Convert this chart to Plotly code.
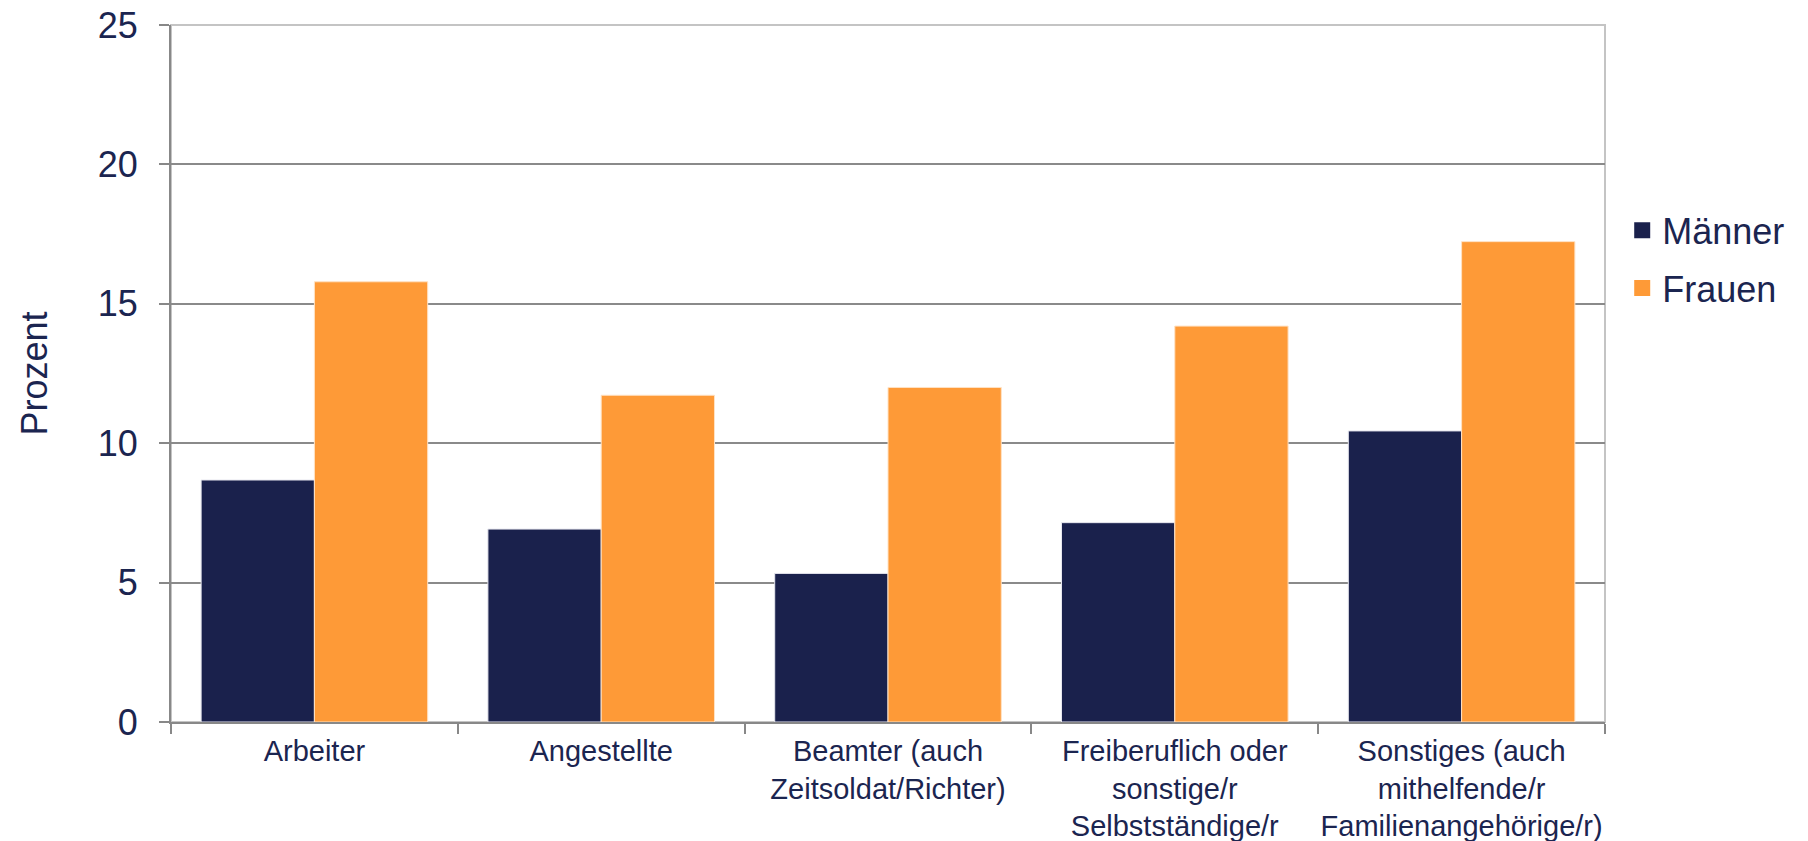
import plotly.graph_objects as go

# Kategorien (Stellung im Beruf)
kategorien = ['Arbeiter',
              'Angestellte',
              'Beamter (auch<br>Zeitsoldat/Richter)',
              'Freiberuflich oder<br>sonstige/r<br>Selbstständige/r',
              'Sonstiges (auch<br>mithelfende/r<br>Familienangehörige/r)']
maenner = [8.68, 6.92, 5.33, 7.15, 10.44]
frauen = [15.79, 11.72, 12.0, 14.2, 17.23]
y_ticks = [0, 5, 10, 15, 20, 25]

navy = '#1A214C'
orange = '#FE9A37'
text_col = '#1B2550'
font_fam = 'Liberation Sans, Arial, sans-serif'

fig = go.Figure()
fig.add_trace(go.Bar(x=kategorien, y=maenner, name='Männer', showlegend=False,
                     marker=dict(color=navy, line=dict(color='#e6e6ee', width=1))))
fig.add_trace(go.Bar(x=kategorien, y=frauen, name='Frauen', showlegend=False,
                     marker=dict(color=orange, line=dict(color='#ffe2c4', width=1))))

# Legende mit grösseren quadratischen Symbolen
for name, col in [('Männer', navy), ('Frauen', orange)]:
    fig.add_trace(go.Scatter(x=[None], y=[None], mode='markers', name=name,
                             legendgroup=name,
                             marker=dict(symbol='square', size=16, color=col)))

# Rahmen des Plotbereichs (hellgrau)
fig.add_shape(type='rect', xref='paper', yref='paper', x0=0, x1=1, y0=0, y1=1,
              line=dict(color='#c4c4c4', width=2), layer='below')

fig.update_layout(
    width=1808, height=841,
    margin=dict(l=171, r=203, t=25, b=119),
    paper_bgcolor='white', plot_bgcolor='white',
    font=dict(family=font_fam, color=text_col),
    barmode='group', bargap=0.21, bargroupgap=0,
    showlegend=True,
    legend=dict(x=1.012, y=0.7485, xanchor='left', yanchor='top',
                font=dict(size=36, color=text_col), itemsizing='trace',
                traceorder='grouped', tracegroupgap=8,
                itemwidth=30, bgcolor='rgba(0,0,0,0)'),
    xaxis=dict(type='category', tickson='boundaries', ticks='outside', ticklen=10,
               tickcolor='#888888', tickwidth=2, showline=True, linecolor='#888888',
               linewidth=2, tickangle=0, automargin=False,
               tickfont=dict(size=29, color=text_col), ticklabelstandoff=2),
    yaxis=dict(range=[0, 25], tickvals=y_ticks, ticks='outside', ticklen=10,
               tickcolor='#888888', tickwidth=2, showline=True, linecolor='#888888',
               linewidth=2, showgrid=True, gridcolor='#8a8a8a', gridwidth=2,
               zeroline=False, automargin=False,
               tickfont=dict(size=36, color=text_col), ticklabelstandoff=14,
               title=dict(text='Prozent', font=dict(size=36, color=text_col), standoff=39)),
)

fig.write_html('out.html', config={'displayModeBar': False},
               post_script="document.body.style.margin='0';")
